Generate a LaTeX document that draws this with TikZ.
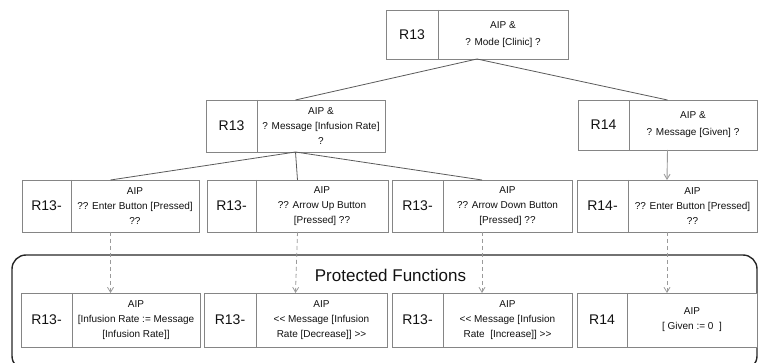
\documentclass[tikz,border=0pt]{standalone}
\usepackage{fontspec}
\setmainfont{Liberation Sans}
\usetikzlibrary{arrows.meta}
\definecolor{boxgray}{HTML}{858585}
\definecolor{linegray}{HTML}{5A5A5A}
\definecolor{arrgray}{HTML}{9A9A9A}
\definecolor{txtcol}{HTML}{111111}
\tikzset{
  cellbox/.style={draw=boxgray, line width=0.9pt, inner sep=0pt, outer sep=0pt, fill=white},
  divline/.style={draw=boxgray, line width=0.9pt},
  labtext/.style={font=\fontsize{14}{16}\selectfont, text=txtcol, inner sep=0pt},
  celltext/.style={font=\fontsize{10}{15}\selectfont, text=txtcol, align=center, inner sep=0pt},
  treeline/.style={draw=linegray, line width=0.8pt},
  solidarrow/.style={draw=arrgray, line width=0.9pt, -{Straight Barb[length=5pt,width=6pt]}},
  dasharrow/.style={draw=arrgray, line width=0.8pt, dash pattern=on 4pt off 3pt, -{Straight Barb[length=5pt,width=6pt]}},
  groupframe/.style={draw=black!85, line width=1.4pt, rounded corners=14pt},
  grouptitle/.style={font=\fontsize{17}{20}\selectfont, text=txtcol, inner sep=0pt},
}
% #1 name, #2 left x, #3 divider x, #4 right x, #5 top y, #6 bottom y, #7 label, #8 text
\newcommand\cellpair[8]{%
  \node[cellbox, minimum width={(#4-#2)*1pt}, minimum height={(#6-#5)*1pt}] (#1) at ({(#2+#4)/2},{(#5+#6)/2}) {};
  \draw[divline] (#3,#5) -- (#3,#6);
  \node[labtext] (#1-l) at ({(#2+#3)/2},{(#5+#6)/2}) {#7};
  \node[celltext] (#1-t) at ({(#3+#4)/2},{(#5+#6)/2}) {#8};
}
\begin{document}
\begin{tikzpicture}[x=1pt, y=-1pt]
  \useasboundingbox (0,0) rectangle (758,363);
  \clip (0,0) rectangle (758,363);

  % group frame
  \draw[groupframe] (12,255) rectangle (757,370);
  \node[grouptitle] (gt) at (390.5,275) {Protected Functions};

  % boxes
  \cellpair{top}{386}{438}{568}{10}{59}{R13}{AIP \&\\[2pt]? Mode [Clinic] ?}
  \cellpair{la}{206}{257}{385}{100}{152}{R13}{AIP \&\\? Message [Infusion Rate]\\?}
  \cellpair{lb}{578}{629}{757}{100}{150}{R14}{AIP \&\\[2pt]? Message [Given] ?}

  \cellpair{ba}{22}{71}{199}{180}{232}{R13-}{AIP\\?? Enter Button [Pressed]\\??}
  \cellpair{bb}{207}{256}{388}{180}{232}{R13-}{AIP\\?? Arrow Up Button\\{}[Pressed] ??}
  \cellpair{bc}{392}{443}{572}{180}{232}{R13-}{AIP\\?? Arrow Down Button\\{}[Pressed] ??}
  \cellpair{bd}{577}{628}{757}{180}{232}{R14-}{AIP\\?? Enter Button [Pressed]\\??}

  \cellpair{ca}{21}{72}{200}{293}{347}{R13-}{AIP\\{}[Infusion Rate := Message\\{}[Infusion Rate]]}
  \cellpair{cb}{204}{256}{387}{293}{347}{R13-}{AIP\\<{}< Message [Infusion\\Rate [Decrease]] >{}>}
  \cellpair{cc}{392}{443}{572}{293}{347}{R13-}{AIP\\<{}< Message [Infusion\\Rate~~[Increase]] >{}>}
  \cellpair{cd}{577}{627}{757}{293}{347}{R14}{AIP\\{}[ Given := 0~~]}

  % tree connectors
  \draw[treeline] (top.south) -- (la.north);
  \draw[treeline] (top.south) -- (lb.north);
  \draw[treeline] (la.south) -- (ba.north);
  \draw[treeline] (la.south) -- (bb.north);
  \draw[treeline] (la.south) -- (bc.north);
  \draw[solidarrow] (lb.south) -- (bd.north);

  % dashed connectors
  \draw[dasharrow] (ba.south) -- (ca.north);
  \draw[dasharrow] (bb.south) -- (cb.north);
  \draw[dasharrow] (bc.south) -- (cc.north);
  \draw[dasharrow] (bd.south) -- (cd.north);
\end{tikzpicture}
\end{document}
